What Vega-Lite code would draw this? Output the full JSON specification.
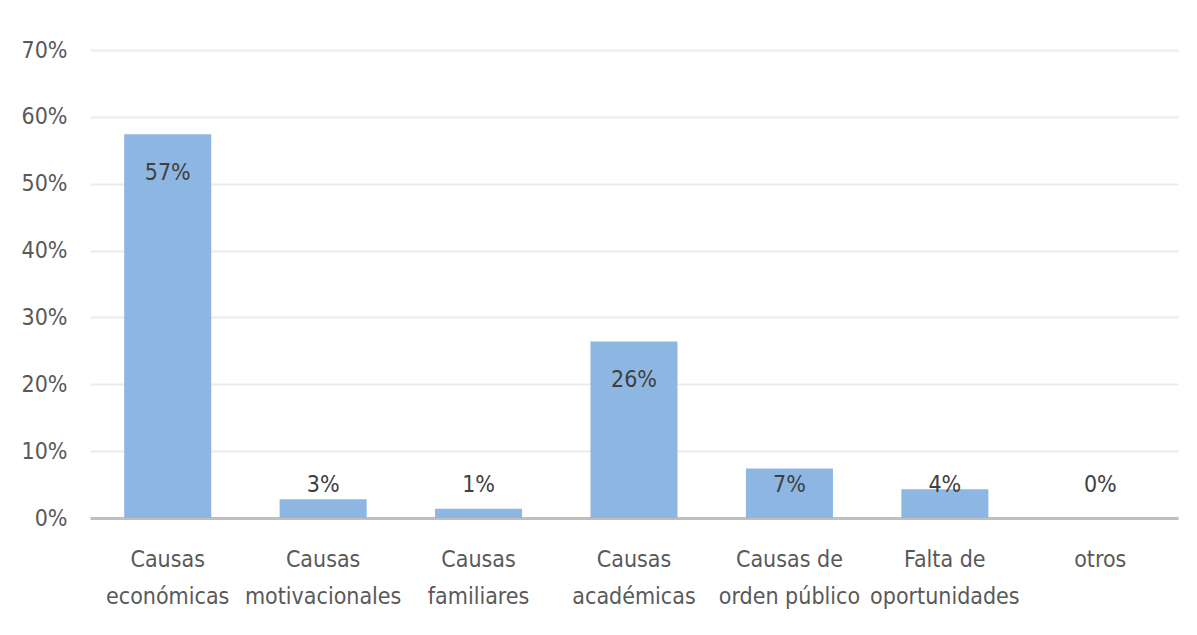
{
  "$schema": "https://vega.github.io/schema/vega-lite/v6.json",
  "width": 1088,
  "height": 468,
  "autosize": "none",
  "padding": {"left": 90, "top": 50, "right": 19, "bottom": 117},
  "background": "white",
  "config": {
    "view": {"stroke": null},
    "font": "DejaVu Sans Condensed, Liberation Sans"
  },
  "data": {
    "values": [
      {"causa": "Causas\neconómicas", "valor": 0.574},
      {"causa": "Causas\nmotivacionales", "valor": 0.028},
      {"causa": "Causas\nfamiliares", "valor": 0.014},
      {"causa": "Causas\nacadémicas", "valor": 0.264},
      {"causa": "Causas de\norden público", "valor": 0.074},
      {"causa": "Falta de\noportunidades", "valor": 0.043},
      {"causa": "otros", "valor": 0.0}
    ]
  },
  "encoding": {
    "x": {
      "field": "causa",
      "type": "nominal",
      "sort": null,
      "scale": {"paddingInner": 0.44, "paddingOuter": 0.22},
      "axis": {
        "title": null,
        "labelAngle": 0,
        "labelExpr": "split(datum.label, '\\n')",
        "labelFontSize": 23,
        "labelLineHeight": 37,
        "labelColor": "#595959",
        "labelPadding": 30,
        "ticks": false,
        "domainColor": "#bfbfbf",
        "domainWidth": 3
      }
    }
  },
  "layer": [
    {
      "mark": {"type": "bar", "color": "#8DB7E2"},
      "encoding": {
        "y": {
          "field": "valor",
          "type": "quantitative",
          "scale": {"domain": [0, 0.7]},
          "axis": {
            "title": null,
            "format": ".0%",
            "values": [0, 0.1, 0.2, 0.3, 0.4, 0.5, 0.6, 0.7],
            "domain": false,
            "ticks": false,
            "labelFontSize": 23,
            "labelColor": "#595959",
            "labelPadding": 23,
            "gridColor": "#ebebeb",
            "gridWidth": 2
          }
        }
      }
    },
    {
      "transform": [{"calculate": "max(datum.valor - 0.058, 0.049)", "as": "pos"}],
      "mark": {"type": "text", "fontSize": 23, "color": "#404040", "baseline": "middle"},
      "encoding": {
        "y": {"field": "pos", "type": "quantitative"},
        "text": {"field": "valor", "type": "quantitative", "format": ".0%"}
      }
    }
  ]
}
